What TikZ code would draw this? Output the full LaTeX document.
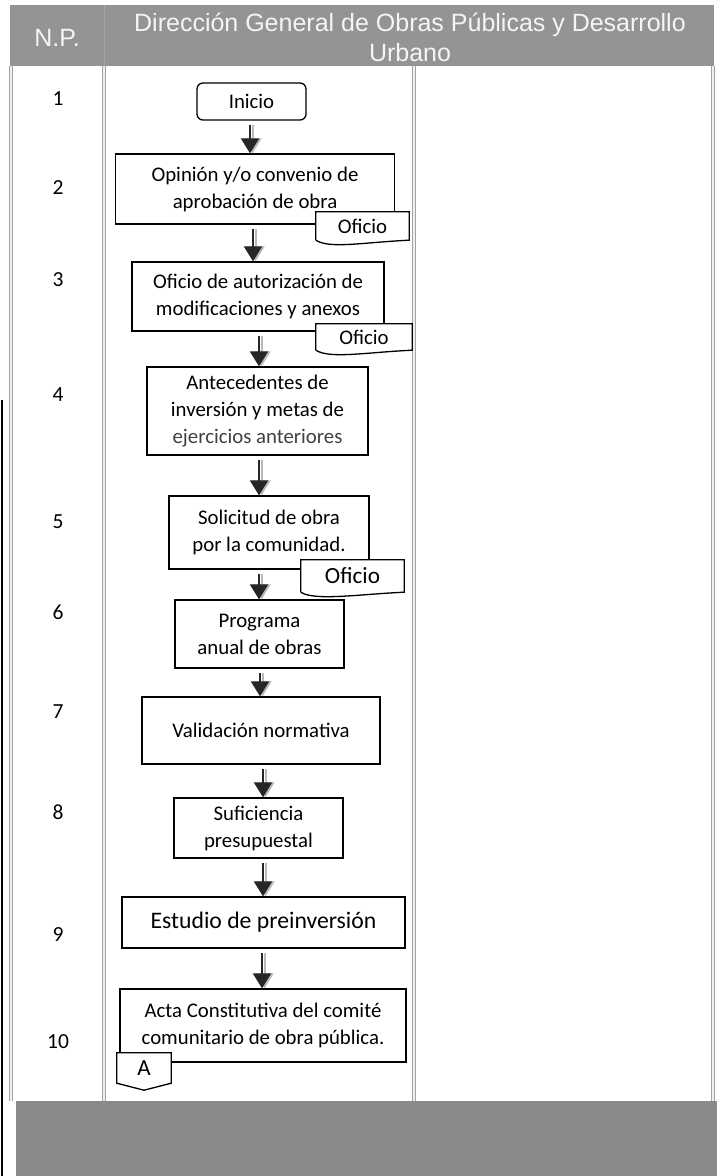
\documentclass[tikz,border=0pt]{standalone}
\usepackage{fontspec}
\setmainfont{Carlito}
\newfontfamily\headfont{Liberation Sans}
\usetikzlibrary{arrows.meta,calc}
\definecolor{hgray}{gray}{0.58}
\definecolor{bgray}{gray}{0.54}
\definecolor{lgray}{gray}{0.64}

\begin{document}
\begin{tikzpicture}[x=1pt,y=-1pt,
  proc/.style={draw,line width=1.3pt,fill=white,align=center,inner sep=0pt,font=\fontsize{20.8}{27}\selectfont},
  ofi/.style={fill=white,inner sep=0pt,font=\fontsize{20.8}{27}\selectfont},
  num/.style={font=\fontsize{21.5}{26}\selectfont},
  head/.style={text=white!92!gray,font=\headfont\fontsize{25}{30}\selectfont,align=center},
  colline/.style={draw=lgray,line width=1pt,double=gray!12,double distance=1.6pt},
  arr/.style={line width=2.2pt,draw=black!85,-{Triangle[width=18pt,length=15pt]},shorten <=4pt,
    preaction={draw=gray!55,line width=2pt,shorten <=4pt,-{Triangle[width=18pt,length=15pt]},transform canvas={xshift=2.5pt}}}]
\useasboundingbox (0,0) rectangle (717,1176);
\fill[hgray] (10,5) rectangle (714,66);
\fill[bgray] (16,1101) rectangle (717,1176);
\foreach \x in {11,414,713}
  \draw[colline] (\x,66) -- (\x,1101);
\draw[colline] (104,66) -- (104,1101);
\draw[gray!70,line width=0.8pt] (104,5) -- (104,66);
\draw[line width=1.2pt] (2,400) -- (2,1176);
\node[head] (np) at (57,38) {N.P.};
\node[head] (tit) at (410,37) {Dirección General de Obras Públicas y Desarrollo\\Urbano};
\foreach \n/\y in {1/99,2/188,3/280,4/395,5/522,6/612,7/712,8/812,9/935,10/1042}
  \node[num] (n\n) at (58,\y) {\n};
\node[proc,rounded corners=6pt,minimum width=109,minimum height=37] (inicio) at (251.5,101.5) {Inicio};
\node[proc,minimum width=279,minimum height=70] (op) at (255,189) {Opinión y/o convenio de\\aprobación de obra};
\node[proc,minimum width=252,minimum height=69] (aut) at (258,296.5) {Oficio de autorización de\\modificaciones y anexos};
\node[proc,minimum width=221,minimum height=88] (ant) at (257.5,411) {Antecedentes de\\inversión y metas de\\{\color{black!75}ejercicios anteriores}};
\node[proc,minimum width=200,minimum height=73] (sol) at (269,532.5) {Solicitud de obra\\por la comunidad.};
\node[proc,minimum width=169,minimum height=68] (prog) at (259.5,634) {Programa\\anual de obras};
\node[proc,minimum width=238,minimum height=67] (val) at (261,730.5) {Validación normativa};
\node[proc,minimum width=169,minimum height=60] (suf) at (258.5,828) {Suficiencia\\presupuestal};
\node[proc,minimum width=283,minimum height=51,font=\fontsize{23.7}{28}\selectfont] (est) at (263.5,922.5) {Estudio de preinversión};
\node[proc,minimum width=286,minimum height=73] (acta) at (263,1025.5) {Acta Constitutiva del comité\\comunitario de obra pública.};
\node[ofi,minimum width=93,minimum height=28] (of1) at (362.5,226) {Oficio};
\node[ofi,minimum width=96,minimum height=26] (of2) at (364,337) {Oficio};
\node[ofi,minimum width=103,minimum height=32,font=\fontsize{23.2}{28}\selectfont] (of3) at (352.5,576) {Oficio};
\foreach \d in {of1,of2,of3}
  \draw[line width=1.3pt] (\d.south west) -- (\d.north west) -- (\d.north east) -- (\d.south east)
    .. controls +(-45,2) and +(14,9) .. (\d.south west);
\node[ofi,minimum width=54,minimum height=30,font=\fontsize{23}{28}\selectfont] (conA) at (144,1068) {A};
\draw[line width=1.3pt] (conA.north west) -- (conA.north east) -- (conA.south east)
  -- ($(conA.south)+(0,7)$) -- (conA.south west) -- cycle;
\foreach \a/\b/\x in {inicio/op/250,op/aut/253,aut/ant/259,ant/sol/259,sol/prog/259,prog/val/260,val/suf/263,suf/est/263,est/acta/262}
  \draw[arr] (\a.south -| \x,0) -- (\b.north -| \x,0);
\end{tikzpicture}
\end{document}
